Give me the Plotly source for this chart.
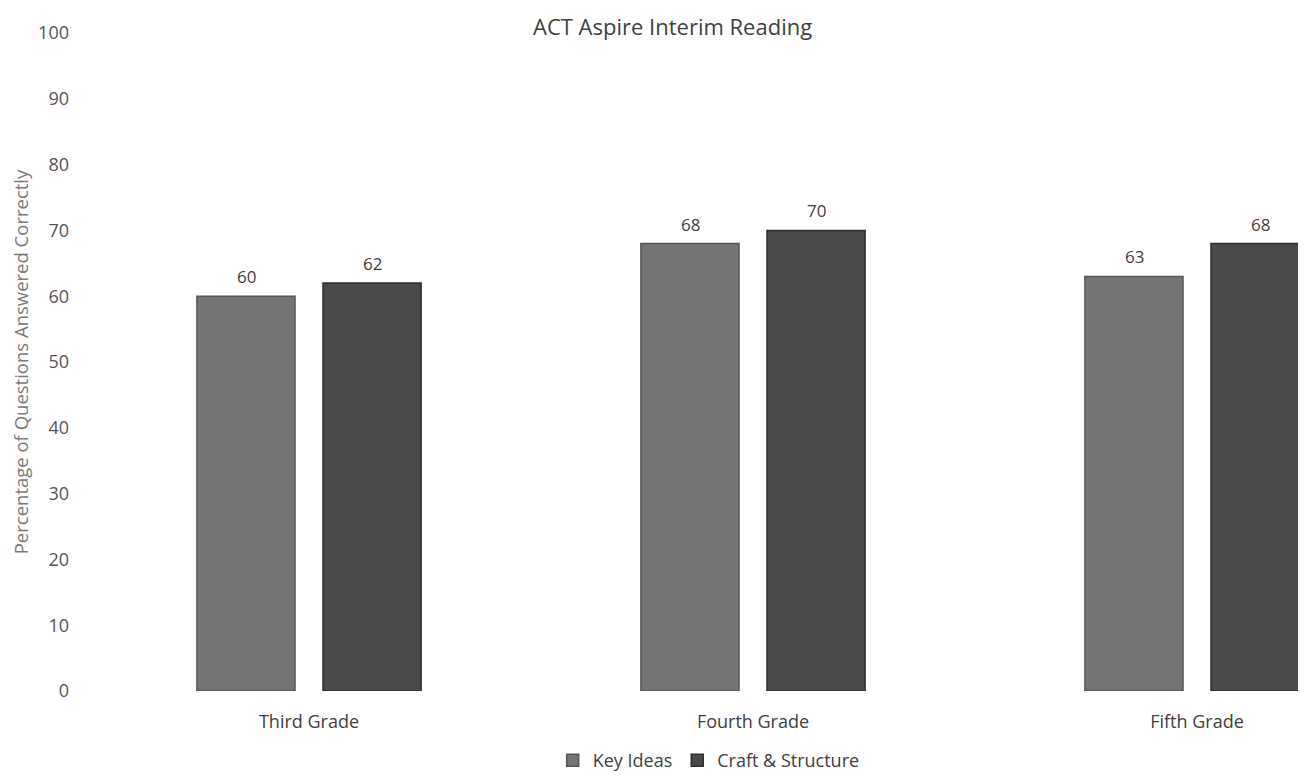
import plotly.graph_objects as go

categories = ["Third Grade", "Fourth Grade", "Fifth Grade"]
key_ideas = [60, 68, 63]
craft_structure = [62, 70, 68]
y_ticks = [0, 10, 20, 30, 40, 50, 60, 70, 80, 90, 100]

FONT = "Open Sans"
TXT = "#404040"
FS = 18

fig = go.Figure()
fig.add_trace(go.Bar(
    name="Key Ideas", x=categories, y=key_ideas,
    marker=dict(color="#747474", line=dict(color="#555555", width=1.5)),
))
fig.add_trace(go.Bar(
    name="Craft & Structure", x=categories, y=craft_structure,
    marker=dict(color="#4a4a4a", line=dict(color="#2e2e2e", width=1.5)),
))

# data labels placed via the axes, shifted to each bar's centre
for series, shift in ((key_ideas, -63), (craft_structure, 63)):
    for cat, val in zip(categories, series):
        fig.add_annotation(
            x=cat, y=val, xref="x", yref="y", text=str(val), showarrow=False,
            xshift=shift, yshift=6, yanchor="bottom", xanchor="center",
            font=dict(family=FONT, size=17, color=TXT),
        )

fig.add_annotation(
    text="ACT Aspire Interim Reading", xref="paper", yref="paper",
    x=(664 - 79) / 1219, y=1 + 7 / 659, xanchor="center", yanchor="middle",
    showarrow=False, font=dict(family=FONT, size=22, color="#404040"),
)

fig.update_layout(
    width=1298, height=771,
    margin=dict(l=79, r=0, t=25, b=87),
    paper_bgcolor="white", plot_bgcolor="white",
    barmode="group", bargap=0.432, bargroupgap=0.222,
    font=dict(family=FONT, size=FS, color=TXT),
    showlegend=True,
    legend=dict(orientation="h", x=0.51, y=-0.106, xanchor="center", yanchor="middle",
                font=dict(family=FONT, size=FS, color=TXT), itemwidth=30),
    xaxis=dict(range=[-0.5, 2.2455], showgrid=False, zeroline=False, showline=False,
               ticks="", tickfont=dict(family=FONT, size=FS, color=TXT), ticklabelstandoff=18),
    yaxis=dict(range=[0, 100], tickvals=y_ticks, showgrid=False, zeroline=False, showline=False,
               ticks="", tickfont=dict(family=FONT, size=FS, color="#555555"), ticklabelstandoff=17,
               title=dict(text="Percentage of Questions Answered Correctly",
                          font=dict(family=FONT, size=18.5, color="#7a7a7a"), standoff=8)),
)

fig.write_html("out.html")
